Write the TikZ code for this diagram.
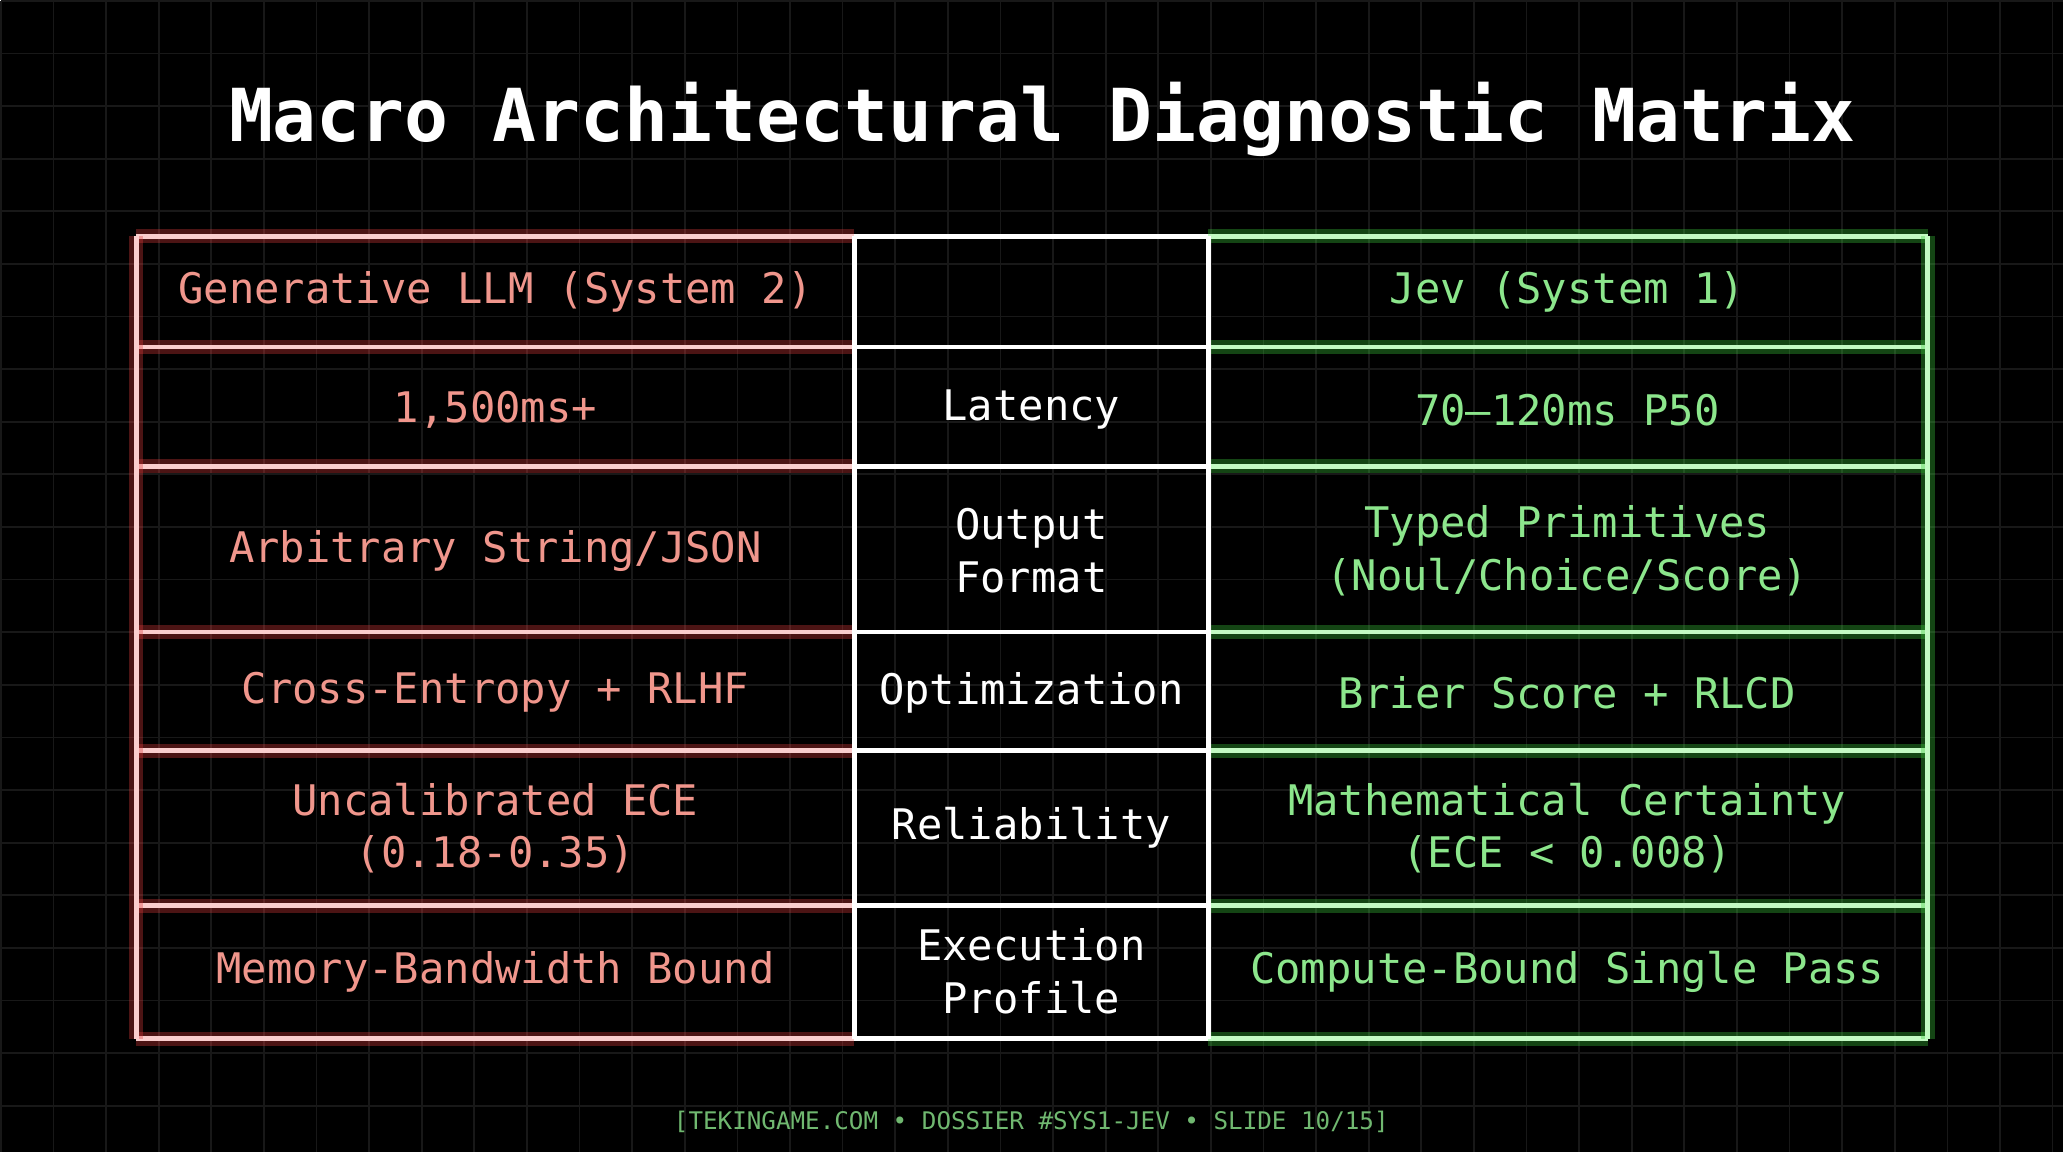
\documentclass[tikz,border=0pt]{standalone}
\usepackage{fontspec}
\setmonofont{DejaVu Sans Mono}
\usetikzlibrary{positioning}
\definecolor{llmtext}{RGB}{240,150,140}
\definecolor{llmline}{RGB}{250,205,205}
\definecolor{llmglow}{RGB}{220,60,60}
\definecolor{jevtext}{RGB}{140,230,140}
\definecolor{jevline}{RGB}{195,250,195}
\definecolor{jevglow}{RGB}{60,200,60}
\definecolor{gridc}{RGB}{24,24,24}
\tikzset{
  cell/.style={font=\ttfamily\fontsize{12}{15}\selectfont,align=center},
  llm/.style={cell,text=llmtext},
  mid/.style={cell,text=white},
  jev/.style={cell,text=jevtext},
  glow/.style={line width=4pt,draw opacity=0.35},
}
\begin{document}
\begin{tikzpicture}[x=0.13163mm,y=-0.13163mm]
\fill[black] (0,0) rectangle (1568,875);
\foreach \i in {0,40,...,1560} \draw[gridc,line width=0.5pt] (\i,0) -- (\i,875);
\foreach \j in {0,40,...,870} \draw[gridc,line width=0.5pt] (0,\j) -- (1568,\j);
\useasboundingbox (0,0) rectangle (1568,875);

% title
\node[text=white,font=\ttfamily\bfseries\fontsize{20.8}{25}\selectfont] (title) at (792,90) {Macro Architectural Diagnostic Matrix};

% table lines (glow first)
\foreach \y in {179,263,354,480,570,688,789} {
  \draw[glow,llmglow] (103,\y) -- (649,\y);
  \draw[glow,jevglow] (918,\y) -- (1465,\y);
  \draw[llmline,line width=1.3pt] (103,\y) -- (649,\y);
  \draw[white,line width=1.3pt] (649,\y) -- (918,\y);
  \draw[jevline,line width=1.3pt] (918,\y) -- (1465,\y);
}
\draw[glow,llmglow] (103,179) -- (103,789);
\draw[glow,jevglow] (1465,179) -- (1465,789);
\draw[llmline,line width=1.3pt] (103,179) -- (103,789);
\draw[white,line width=1.3pt] (649,179) -- (649,789);
\draw[white,line width=1.3pt] (918,179) -- (918,789);
\draw[jevline,line width=1.3pt] (1465,179) -- (1465,789);

% cells
\node[llm] (llmhead) at (376,221) {Generative LLM (System 2)};
\node[jev] (jevhead) at (1191,221) {Jev (System 1)};
\node[llm] (llmlat) at (376,311) {1,500ms+};
\node[mid] (lat) at (783.5,311) {Latency};
\node[jev] (jevlat) at (1191,311) {70–120ms P50};
\node[llm] (llmout) at (376,418) {Arbitrary String/JSON};
\node[mid] (out) at (783.5,418) {Output\\Format};
\node[jev] (jevout) at (1191,418) {Typed Primitives\\(Noul/Choice/Score)};
\node[llm] (llmopt) at (376,526) {Cross-Entropy + RLHF};
\node[mid] (opt) at (783.5,526) {Optimization};
\node[jev] (jevopt) at (1191,526) {Brier Score + RLCD};
\node[llm] (llmrel) at (376,629) {Uncalibrated ECE\\(0.18-0.35)};
\node[mid] (rel) at (783.5,629) {Reliability};
\node[jev] (jevrel) at (1191,629) {Mathematical Certainty\\(ECE < 0.008)};
\node[llm] (llmexe) at (376,738) {Memory-Bandwidth Bound};
\node[mid] (exe) at (783.5,738) {Execution\\Profile};
\node[jev] (jevexe) at (1191,738) {Compute-Bound Single Pass};

% footer
\node[text=jevtext!80!black,font=\ttfamily\fontsize{6.9}{8}\selectfont] (foot) at (783.5,852) {[TEKINGAME.COM • DOSSIER \#SYS1-JEV • SLIDE 10/15]};
\end{tikzpicture}
\end{document}
